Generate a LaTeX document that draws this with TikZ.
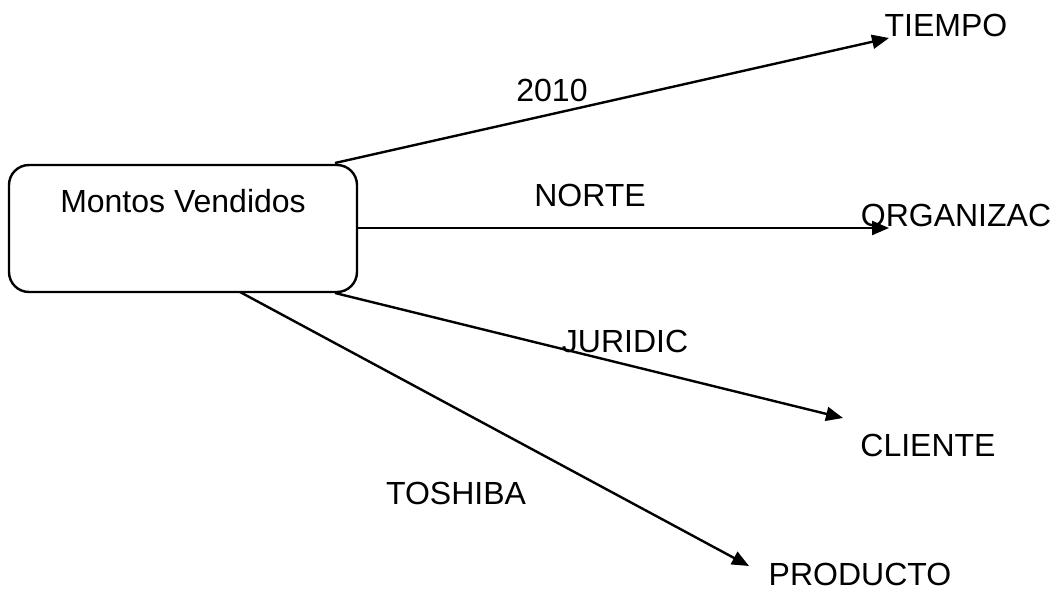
\documentclass[tikz,border=0pt]{standalone}
\usepackage{fontspec}
\setmainfont{Liberation Sans}
\usetikzlibrary{arrows.meta}
\begin{document}
\begin{tikzpicture}[x=1pt,y=-1pt,
  every node/.style={font=\fontsize{32}{38}\selectfont, inner sep=0pt},
  factbox/.style={draw, line width=2.4pt, rounded corners=20pt,
    minimum width=348pt, minimum height=127pt},
  dimlabel/.style={anchor=center},
  link/.style={line width=2.4pt, -{Triangle[length=17pt,width=14pt]}}]
  \useasboundingbox (0,0) rectangle (1059,591);

  % fact table
  \node[factbox] (fact) at (183,228.5) {};
  \node (title) at (183,201) {Montos Vendidos};

  % dimensions
  \node[dimlabel] (tiempo)   at (946,25)  {TIEMPO};
  \node[dimlabel] (organiz)  at (956,215) {ORGANIZAC};
  \node[dimlabel] (cliente)  at (928,445) {CLIENTE};
  \node[dimlabel] (producto) at (860,574) {PRODUCTO};

  % arrow ends
  \coordinate (s1) at (335,163);
  \coordinate (s2) at (357,228);
  \coordinate (s3) at (335,293);
  \coordinate (s4) at (240,292);
  \coordinate (t1) at (889,38);
  \coordinate (t2) at (889,228);
  \coordinate (t3) at (843,418);
  \coordinate (t4) at (749,566);

  \draw[link] (s1) -- (t1);
  \draw[link] (s2) -- (t2);
  \draw[link] (s3) -- (t3);
  \draw[link] (s4) -- (t4);

  % member labels
  \node (y2010)   at (552,90)  {2010};
  \node (norte)   at (590,195) {NORTE};
  \node (juridic) at (625,341) {JURIDIC};
  \node (toshiba) at (456,493) {TOSHIBA};
\end{tikzpicture}
\end{document}
